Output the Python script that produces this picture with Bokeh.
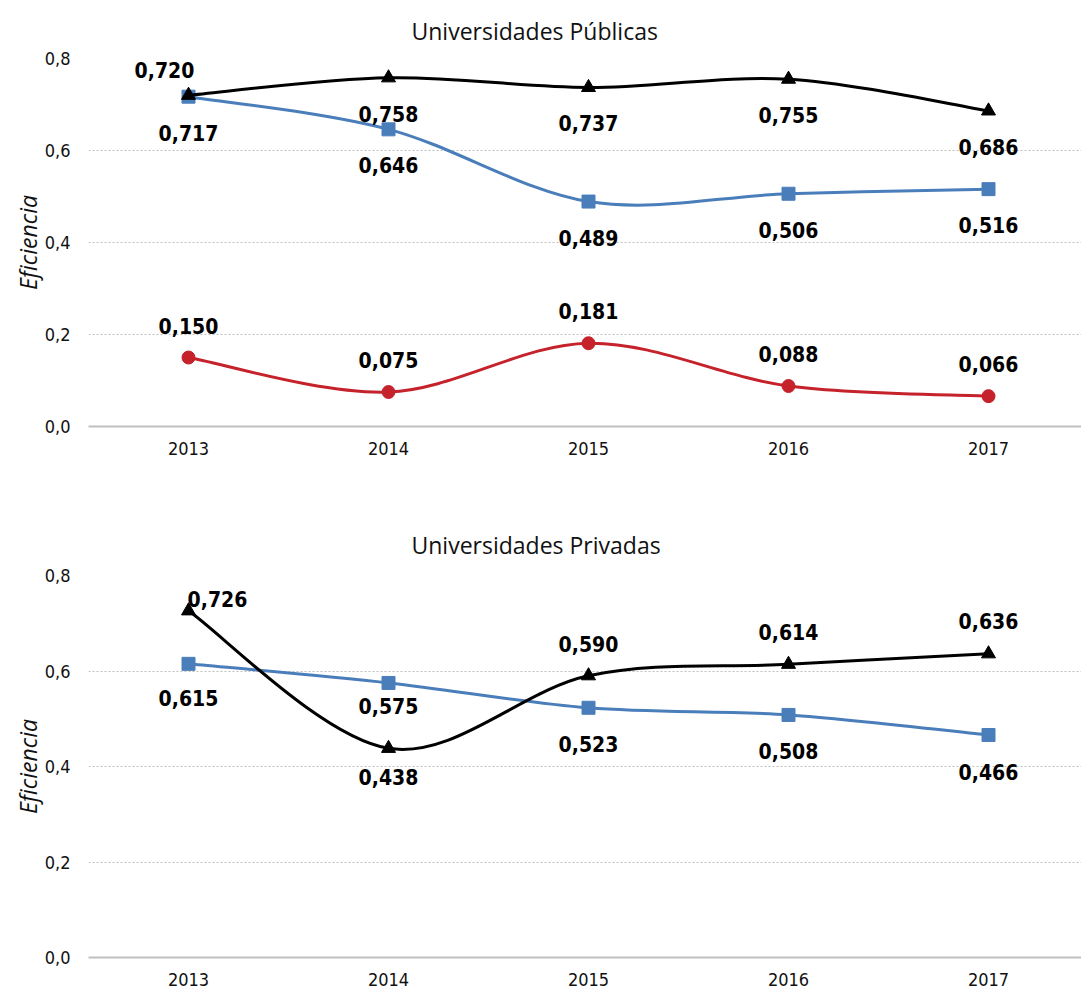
from bokeh.plotting import figure
from bokeh.models import Range1d, FixedTicker, ColumnDataSource
from bokeh.layouts import column
from bokeh.core.properties import value
from bokeh.embed import file_html
from bokeh.resources import INLINE

years = ["2013", "2014", "2015", "2016", "2017"]

pub_black = [0.720, 0.758, 0.737, 0.755, 0.686]
pub_blue = [0.717, 0.646, 0.489, 0.506, 0.516]
pub_red = [0.150, 0.075, 0.181, 0.088, 0.066]

priv_black = [0.726, 0.438, 0.590, 0.614, 0.636]
priv_blue = [0.615, 0.575, 0.523, 0.508, 0.466]

y_ticks = [0.0, 0.2, 0.4, 0.6, 0.8]
y_tick_labels = ["0,0", "0,2", "0,4", "0,6", "0,8"]

BLACK = "#000000"
BLUE = "#4A7EBB"
RED = "#C5222B"
NUM_FONT = "DejaVu Sans Condensed, Roboto"
TXT_FONT = "Open Sans"


def smooth(xs, ys):
    n = len(xs)
    out = dict(x0=[], y0=[], x1=[], y1=[], cx0=[], cy0=[], cx1=[], cy1=[])
    for i in range(n - 1):
        p0 = i - 1 if i > 0 else i
        p3 = i + 2 if i + 2 < n else i + 1
        out["x0"].append(xs[i]); out["y0"].append(ys[i])
        out["x1"].append(xs[i + 1]); out["y1"].append(ys[i + 1])
        out["cx0"].append(xs[i] + (xs[i + 1] - xs[p0]) / 6)
        out["cy0"].append(ys[i] + (ys[i + 1] - ys[p0]) / 6)
        out["cx1"].append(xs[i + 1] - (xs[p3] - xs[i]) / 6)
        out["cy1"].append(ys[i + 1] - (ys[p3] - ys[i]) / 6)
    return out


def fmt(v):
    return f"{v:.3f}".replace(".", ",")


def make_fig(title, height, border_top, border_bottom, title_standoff):
    xs = list(range(len(years)))
    p = figure(width=1081, height=height, output_backend="svg", toolbar_location=None,
               x_range=Range1d(-0.5, -0.5 + 993 / 200), y_range=Range1d(0, 0.8),
               min_border_left=88, min_border_right=0,
               min_border_top=border_top, min_border_bottom=border_bottom,
               title=title)
    p.outline_line_color = None
    p.background_fill_color = "white"
    p.border_fill_color = "white"
    p.title.align = "left"
    p.title.offset = 323
    p.title.standoff = title_standoff
    p.title.text_font = TXT_FONT
    p.title.text_font_style = "normal"
    p.title.text_font_size = "23px"
    p.title.text_color = "#111111"

    p.xaxis.ticker = FixedTicker(ticks=xs)
    p.xaxis.major_label_overrides = {i: y for i, y in enumerate(years)}
    p.xaxis.axis_line_color = "#BFBFBF"
    p.xaxis.axis_line_width = 2
    p.xaxis.major_tick_line_color = None
    p.xaxis.minor_tick_line_color = None
    p.xaxis.major_label_text_font = NUM_FONT
    p.xaxis.major_label_text_font_size = "18px"
    p.xaxis.major_label_text_color = "#111111"
    p.xaxis.major_label_standoff = 9

    p.yaxis.ticker = FixedTicker(ticks=y_ticks)
    p.yaxis.major_label_overrides = {t: l for t, l in zip(y_ticks, y_tick_labels)}
    p.yaxis.axis_line_color = None
    p.yaxis.major_tick_line_color = None
    p.yaxis.minor_tick_line_color = None
    p.yaxis.major_label_text_font = NUM_FONT
    p.yaxis.major_label_text_font_size = "18px"
    p.yaxis.major_label_text_color = "#111111"
    p.yaxis.major_label_standoff = 12
    p.yaxis.axis_label = "Eficiencia"
    p.yaxis.axis_label_text_font = TXT_FONT
    p.yaxis.axis_label_text_font_style = "italic"
    p.yaxis.axis_label_text_font_size = "23px"
    p.yaxis.axis_label_text_color = "#111111"
    p.yaxis.axis_label_standoff = -2

    p.xgrid.grid_line_color = None
    p.ygrid.ticker = FixedTicker(ticks=y_ticks[1:])
    p.ygrid.grid_line_color = "#BFBFBF"
    p.ygrid.grid_line_dash = "2 2"
    p.ygrid.grid_line_width = 1
    return p


def add_series(p, vals, color, marker, size, offs):
    xs = list(range(len(vals)))
    seg = smooth(xs, vals)
    p.bezier(x0="x0", y0="y0", x1="x1", y1="y1", cx0="cx0", cy0="cy0", cx1="cx1", cy1="cy1",
             source=ColumnDataSource(seg), line_color=color, line_width=3)
    p.scatter(xs, vals, marker=marker, size=size, fill_color=color, line_color=color)
    src = ColumnDataSource(dict(x=xs, y=vals, t=[fmt(v) for v in vals],
                                dx=[o[0] for o in offs], dy=[o[1] for o in offs]))
    p.text(x="x", y="y", text="t", x_offset="dx", y_offset="dy", source=src,
           text_font=value(NUM_FONT), text_font_style="bold", text_font_size="21px",
           text_align="center", text_baseline="middle", text_color="#000000")


p1 = make_fig("Universidades Públicas", 499, 57, 73, 24)
add_series(p1, pub_red, RED, "circle", 13, [(0, -32)] * 5)
add_series(p1, pub_blue, BLUE, "square", 13, [(0, 36)] * 5)
add_series(p1, pub_black, BLACK, "triangle", 14, [(-24, -25)] + [(0, 36)] * 4)

p2 = make_fig("Universidades Privadas", 492, 76, 34, 30)
add_series(p2, priv_blue, BLUE, "square", 13, [(0, 34), (0, 23), (0, 36), (0, 36), (0, 37)])
add_series(p2, priv_black, BLACK, "triangle", 14,
           [(29, -12), (0, 29), (0, -32), (0, -32), (0, -33)])

layout = column(p1, p2, spacing=0)
open("out.html", "w").write(file_html(layout, INLINE))
